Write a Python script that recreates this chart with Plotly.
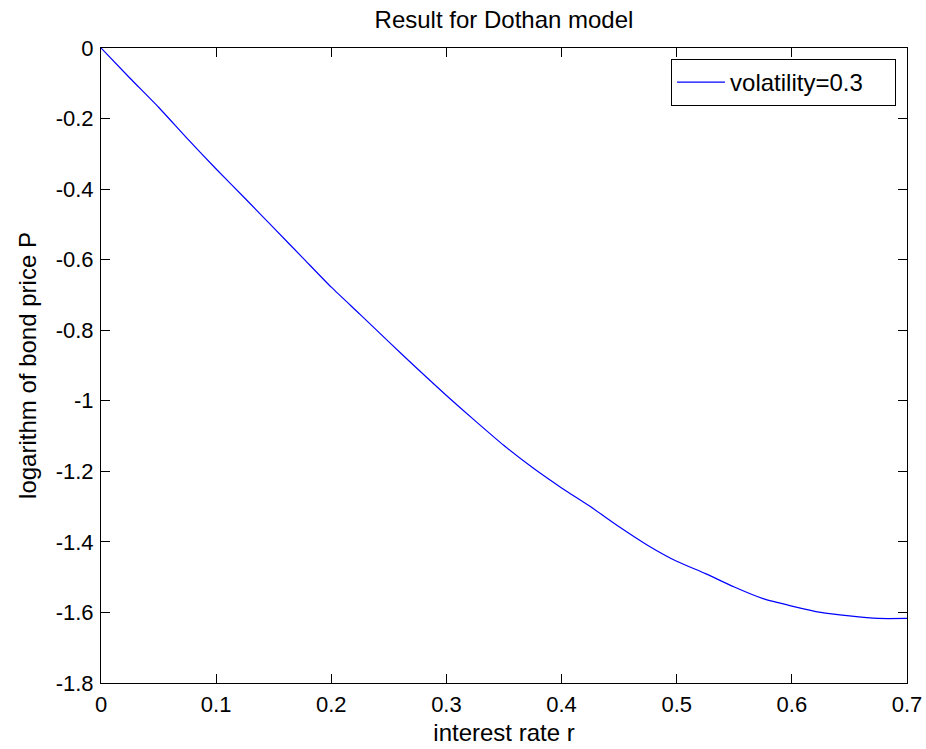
import plotly.graph_objects as go

# Data
interest_rate = [0, 0.025, 0.05, 0.075, 0.1, 0.125, 0.15, 0.175, 0.2, 0.225,
                 0.25, 0.275, 0.3, 0.325, 0.35, 0.375, 0.4, 0.425, 0.45, 0.475,
                 0.5, 0.525, 0.55, 0.575, 0.6, 0.625, 0.65, 0.675, 0.7]
log_bond_price = [0, -0.085, -0.168, -0.257, -0.343, -0.426, -0.510, -0.594, -0.678, -0.755,
                  -0.833, -0.910, -0.985, -1.057, -1.127, -1.190, -1.247, -1.300, -1.357, -1.410,
                  -1.455, -1.490, -1.528, -1.561, -1.582, -1.600, -1.610, -1.617, -1.617]

x_tick_vals = [0, 0.1, 0.2, 0.3, 0.4, 0.5, 0.6, 0.7]
x_tick_text = ["0", "0.1", "0.2", "0.3", "0.4", "0.5", "0.6", "0.7"]
y_tick_vals = [0, -0.2, -0.4, -0.6, -0.8, -1.0, -1.2, -1.4, -1.6, -1.8]
y_tick_text = ["0", "-0.2", "-0.4", "-0.6", "-0.8", "-1", "-1.2", "-1.4", "-1.6", "-1.8"]

FONT = "Liberation Sans, Arial, sans-serif"
FS_TICK = 22
FS_TEXT = 24

fig = go.Figure()
fig.add_trace(go.Scatter(
    x=interest_rate, y=log_bond_price, mode="lines",
    name="volatility=0.3",
    line=dict(color="#0000FF", width=1.2, shape="spline", smoothing=0.6),
))

W, H = 926, 749
L, R, T, B = 101, 19, 48, 66

axis_common = dict(
    showgrid=False, zeroline=False, showline=True, linecolor="black", linewidth=1,
    mirror="ticks", ticks="inside", ticklen=9, tickcolor="black", tickwidth=1,
    tickfont=dict(family=FONT, size=FS_TICK, color="black"), automargin=False,
)

fig.update_layout(
    width=W, height=H,
    margin=dict(l=L, r=R, t=T, b=B, pad=0, autoexpand=False),
    paper_bgcolor="white", plot_bgcolor="white",
    font=dict(family=FONT, size=FS_TEXT, color="black"),
    title=dict(text="Result for Dothan model", x=(L + (W - L - R) / 2) / W, xanchor="center",
               y=1 - 20 / H, yanchor="middle", automargin=False,
               font=dict(family=FONT, size=FS_TEXT, color="black")),
    xaxis=dict(range=[0, 0.7], tickvals=x_tick_vals, ticktext=x_tick_text,
               title=dict(text="interest rate r", standoff=7,
                          font=dict(family=FONT, size=FS_TEXT, color="black")),
               ticklabelstandoff=2, **axis_common),
    yaxis=dict(range=[-1.8, 0], tickvals=y_tick_vals, ticktext=y_tick_text,
               title=dict(text="logarithm of bond price P", standoff=12,
                          font=dict(family=FONT, size=FS_TEXT, color="black")),
               ticklabelstandoff=2, **axis_common),
    legend=dict(x=0.9864, y=0.9827, xanchor="right", yanchor="top",
                orientation="h",
                bgcolor="white", bordercolor="black", borderwidth=1,
                itemwidth=48, entrywidth=160, entrywidthmode="pixels",
                font=dict(family=FONT, size=FS_TEXT, color="black")),
    showlegend=True,
)

fig.write_html("out.html")
